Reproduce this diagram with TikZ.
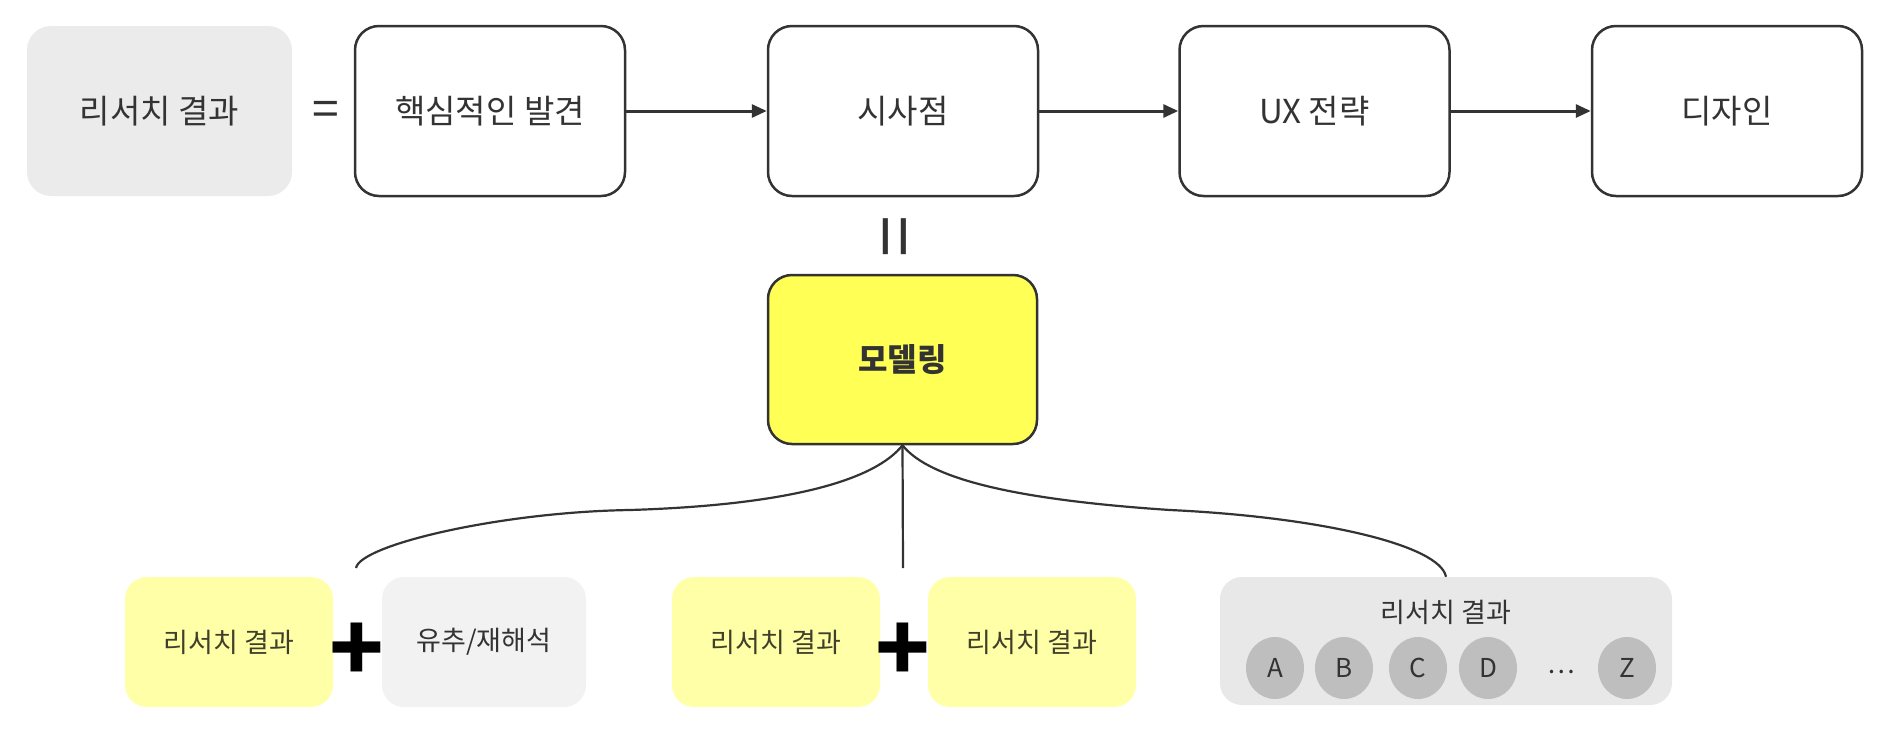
\documentclass[tikz,border=0pt]{standalone}
\usepackage{fontspec}
\setmainfont{Noto Sans CJK KR}
\usetikzlibrary{arrows.meta,shapes.geometric}
\definecolor{linec}{HTML}{333333}
\definecolor{txtc}{HTML}{333333}
\definecolor{topgrayc}{HTML}{EBEBEB}
\definecolor{modelc}{HTML}{FFFF55}
\definecolor{lighty}{HTML}{FFFFA8}
\definecolor{lightg}{HTML}{F2F2F2}
\definecolor{bigg}{HTML}{E8E8E8}
\definecolor{circc}{HTML}{BEBEBE}
\definecolor{ytxt}{HTML}{3F3F2A}
\begin{document}
\begin{tikzpicture}[x=1pt,y=-1pt,
  basebox/.style={rectangle, rounded corners=24pt, inner sep=0pt, align=center},
  topbox/.style={basebox, draw=linec, line width=2.5pt, fill=white, minimum width=270pt, minimum height=170pt, text=txtc, font=\fontsize{33}{40}\selectfont},
  topgray/.style={basebox, fill=topgrayc, minimum width=265pt, minimum height=170pt, text=txtc, font=\fontsize{33}{40}\selectfont},
  modelbox/.style={basebox, draw=linec, line width=2.5pt, fill=modelc, minimum width=269pt, minimum height=169pt, text=txtc, font=\bfseries\fontsize{32}{40}\selectfont},
  ybox/.style={basebox, rounded corners=22pt, fill=lighty, minimum width=208pt, minimum height=130pt, text=ytxt, font=\fontsize{27}{34}\selectfont},
  gbox/.style={basebox, rounded corners=22pt, fill=lightg, minimum width=204pt, minimum height=130pt, text=txtc, font=\fontsize{27}{34}\selectfont},
  bigbox/.style={basebox, rounded corners=22pt, fill=bigg, minimum width=452pt, minimum height=128pt},
  circ/.style={ellipse, fill=circc, minimum width=58pt, minimum height=62pt, inner sep=0pt, text=txtc, font=\fontsize{26}{30}\selectfont},
  eqsign/.style={inner sep=0pt, text=linec},
  plussign/.style={inner sep=0pt, text=black, font=\bfseries\fontsize{90}{90}\selectfont},
  flow/.style={draw=linec, line width=3pt, -{Triangle[length=15pt,width=13pt]}},
  link/.style={draw=linec, line width=2.2pt}
]
\useasboundingbox (0,0) rectangle (1890,740);

% top row
\node[topgray] (rg) at (159.5,111) {리서치 결과};
\node[eqsign, font=\fontsize{48}{50}\selectfont] (eq) at (326,114) {=};
\node[topbox] (k1) at (490,111) {핵심적인 발견};
\node[topbox] (k2) at (903,111) {시사점};
\node[topbox] (k3) at (1314.5,111) {UX 전략};
\node[topbox] (k4) at (1727,111) {디자인};
\draw[flow] (k1) -- (k2);
\draw[flow] (k2) -- (k3);
\draw[flow] (k3) -- (k4);

% equals under 시사점
\node[eqsign, rotate=90, font=\fontsize{75}{80}\selectfont] (eq2) at (902.5,237) {=};

% modelling
\node[modelbox] (m) at (902.5,359.5) {모델링};

% bottom row
\node[ybox] (y1) at (229,642) {리서치 결과};
\node[plussign] (p1) at (357,652) {+};
\node[gbox] (g1) at (484,642) {유추/재해석};
\node[ybox] (y2) at (776,642) {리서치 결과};
\node[plussign] (p2) at (903,652) {+};
\node[ybox] (y3) at (1032,642) {리서치 결과};

\node[bigbox] (big) at (1446,641) {};
\node[inner sep=0pt, text=txtc, font=\fontsize{27}{34}\selectfont] (bt) at (1446,612) {리서치 결과};
\node[circ] (ca) at (1275,668) {A};
\node[circ] (cb) at (1344,668) {B};
\node[circ] (cc) at (1418,668) {C};
\node[circ] (cd) at (1488,668) {D};
\node[inner sep=0pt, text=txtc, font=\fontsize{26}{30}\selectfont] (dots) at (1561,672) {…};
\node[circ] (cz) at (1627,668) {Z};

% connectors from modelling
\coordinate (lend) at (356,568);
\coordinate (mend) at (903,568);
\draw[link] (m.south) .. controls (875,480) and (790,505) .. (630,510)
  .. controls (500,512) and (360,545) .. (lend);
\draw[link] (m.south) -- (mend);
\draw[link] (m.south) .. controls (930,480) and (1020,500) .. (1170,510)
  .. controls (1320,517) and (1440,545) .. (big.north);
\end{tikzpicture}
\end{document}
